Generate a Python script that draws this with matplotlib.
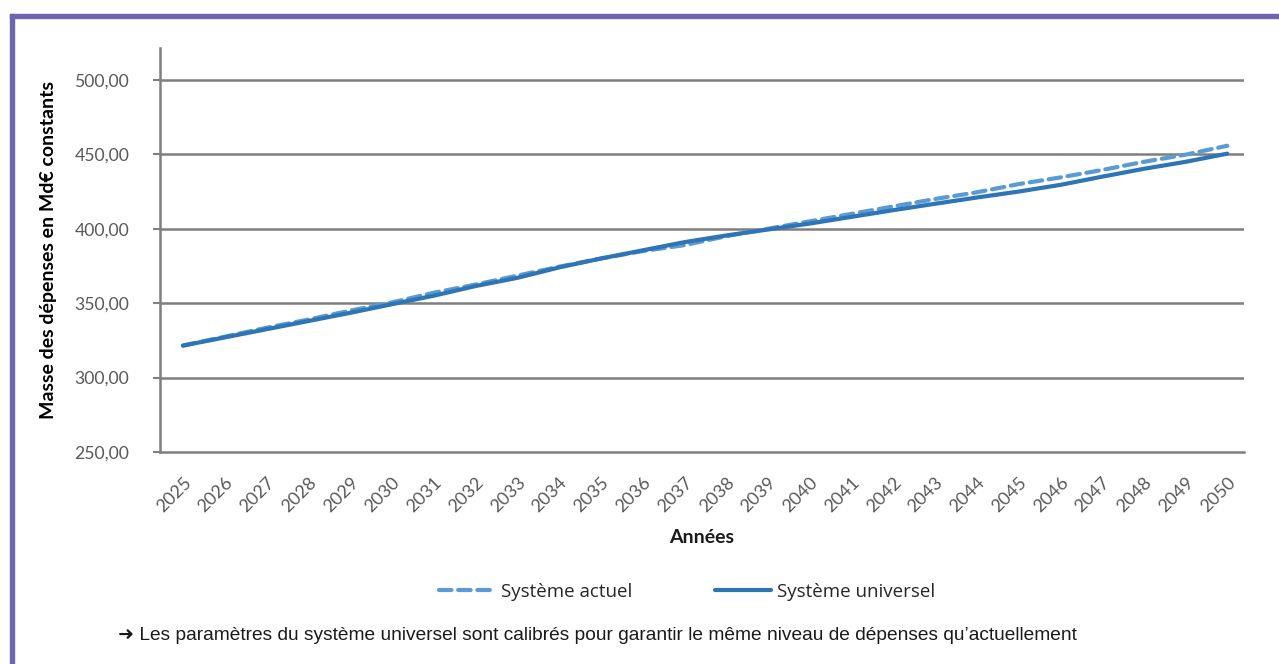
import matplotlib
matplotlib.use("Agg")
import matplotlib.pyplot as plt
from matplotlib.patches import Rectangle
from matplotlib.lines import Line2D

years = list(range(2025, 2051))
actuel = [321.5, 327.5, 333.5, 339.0, 345.0, 350.5, 357.0, 362.5, 368.5, 374.5,
          380.0, 385.0, 389.0, 395.0, 400.0, 405.0, 410.0, 415.0, 420.0, 424.5,
          430.0, 434.5, 439.5, 445.0, 449.8, 455.8]
universel = [321.5, 327.0, 332.5, 338.0, 343.5, 349.3, 355.0, 361.5, 367.0, 374.0,
             380.0, 385.5, 391.0, 395.5, 399.5, 403.5, 408.0, 412.5, 416.8, 421.0,
             425.0, 429.5, 435.0, 440.3, 445.0, 450.5]
yticks = [250, 300, 350, 400, 450, 500]
ytick_labels = ["250,00", "300,00", "350,00", "400,00", "450,00", "500,00"]

label_font = ["Lato", "DejaVu Sans"]
legend_font = ["Open Sans", "DejaVu Sans"]
gray_txt = "#595959"
grid_col = "#7f7f7f"

fig = plt.figure(figsize=(12.79, 6.64), dpi=100)
W, H = 1279, 664

# purple frame (top and left)
fig.patches.append(Rectangle((10 / W, 1 - 18 / H), 1 - 10 / W, 4 / H,
                             transform=fig.transFigure, color="#6e65b0", zorder=0))
fig.patches.append(Rectangle((10 / W, 0), 4 / W, 1 - 14 / H,
                             transform=fig.transFigure, color="#6e65b0", zorder=0))

ax = fig.add_axes([160 / W, 1 - 452 / H, (1244 - 160) / W, (452 - 48) / H])
ax.set_facecolor("none")

ax.plot(years, actuel, color="#5b9bd5", lw=3.0, ls=(0, (3.0, 1.6)),
        solid_capstyle="round", dash_capstyle="round", zorder=3)
ax.plot(years, universel, color="#2e75b6", lw=3.0, solid_capstyle="round", zorder=4)

ax.set_xlim(2024.45, 2050.4)
ax.set_ylim(250, 521.5)
ax.set_yticks(yticks)
ax.set_yticklabels(ytick_labels, family=label_font, fontsize=12.7, color=gray_txt)
ax.set_xticks(years)
ax.set_xticklabels([str(y) for y in years], family=label_font, fontsize=13,
                   color=gray_txt, rotation=45, ha="right", rotation_mode="anchor")

for y in yticks[1:]:
    ax.axhline(y, color=grid_col, lw=1.8, zorder=1)

for s in ["top", "right"]:
    ax.spines[s].set_visible(False)
ax.spines["left"].set_color(grid_col)
ax.spines["left"].set_linewidth(1.8)
ax.spines["bottom"].set_color(grid_col)
ax.spines["bottom"].set_linewidth(1.8)
ax.tick_params(axis="y", length=5, width=1.5, color=grid_col, pad=17)
ax.tick_params(axis="x", length=0, pad=16)

ax.set_xlabel("Années", family=label_font, fontsize=14, fontweight="bold",
              color="#1a1a1a", labelpad=10)
ax.set_ylabel("Masse des dépenses en Md€ constants", family=label_font, fontsize=14,
              fontweight="bold", color="#000000", labelpad=13)

handles = [Line2D([], [], color="#5b9bd5", lw=3.0, ls=(0, (3.0, 1.6)), dash_capstyle="round"),
           Line2D([], [], color="#2e75b6", lw=3.0, solid_capstyle="round")]
leg = fig.legend(handles, ["Système actuel", "Système universel"], ncol=2,
                 loc="center", bbox_to_anchor=(687 / W, 1 - 592 / H), frameon=False,
                 prop={"family": legend_font, "size": 13.5}, handlelength=3.0,
                 handletextpad=0.3, columnspacing=4.4, labelcolor="#262626")

fig.text(118 / W, 1 - 640 / H,
         "➜ Les paramètres du système universel sont calibrés pour garantir le même niveau de dépenses qu’actuellement",
         family=["Liberation Sans", "DejaVu Sans"], fontsize=13.8, color="#1a1a1a",
         ha="left", va="baseline")

fig.savefig("out.png", dpi=100)
